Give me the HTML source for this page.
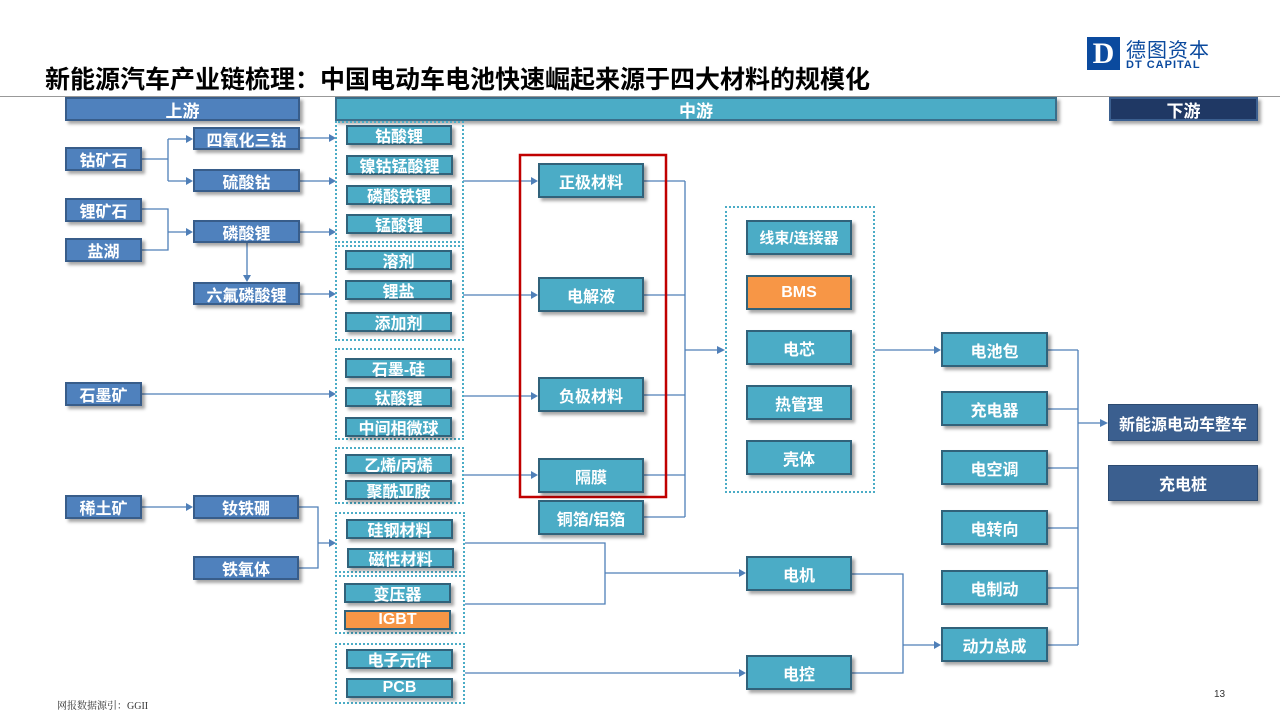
<!DOCTYPE html>
<html><head><meta charset="utf-8"><style>
body{margin:0;width:1280px;height:720px;background:#fff;position:relative;overflow:hidden;font-family:"Liberation Sans","Noto Sans CJK SC","WenQuanYi Zen Hei",sans-serif}
.b{position:absolute;box-sizing:border-box;color:#fff;font-weight:bold;display:flex;align-items:center;justify-content:center;font-size:16px;box-shadow:3px 3px 3px rgba(0,0,0,.35)}
.u{background:#4f81bd;border:2px solid #385d8a}
.m{background:#4bacc6;border:2px solid #31627a}
.o{background:#f79646;border:2px solid #31627a}
.n{background:#3b5f8f;border:1px solid #2c4a70}
.g{position:absolute;border:2px dotted #4bacc6;box-sizing:border-box}
svg{position:absolute;left:0;top:0}
</style></head><body>
<div style="position:absolute;left:45px;top:60px;font-size:25px;font-weight:bold;color:#000">新能源汽车产业链梳理：中国电动车电池快速崛起来源于四大材料的规模化</div>
<div style="position:absolute;left:0;top:96px;width:1280px;height:1px;background:#999"></div>
<div style="position:absolute;left:1087px;top:37px;width:33px;height:33px;background:#0b4a9e;color:#fff;font:bold 30px 'Liberation Serif',serif;display:flex;align-items:center;justify-content:center">D</div>
<div style="position:absolute;left:1126px;top:34px;font-size:20px;color:#0b4a9e;letter-spacing:1px">德图资本</div>
<div style="position:absolute;left:1126px;top:59px;font-size:11px;font-weight:bold;color:#0b4a9e;letter-spacing:1px">DT CAPITAL</div>

<div class="b u" style="left:65px;top:97px;width:235px;height:24px;font-size:17px">上游</div>
<div class="b m" style="left:335px;top:97px;width:722px;height:24px;font-size:17px;border-color:#3a6e8a">中游</div>
<div class="b" style="left:1109px;top:97px;width:149px;height:24px;font-size:17px;background:#1f3864;border:2px solid #3b5f8f">下游</div>

<svg width="1280" height="720"><g stroke="#4f7fb8" stroke-width="1.3" fill="none">
<path d="M142 159H168M168 139V181M168 139H190M168 181H190"/>
<path d="M142 209H168V250H142M168 232H190"/>
<path d="M247 243V280"/>
<path d="M300 138H333M300 181H333M300 232H333M300 294H333"/>
<path d="M142 394H333M142 507H190"/>
<path d="M299 507H318V568H299M318 543H333"/>
<path d="M463 181H535M463 295H535M463 396H535M463 475H535"/>
<path d="M644 181H685M644 295H685M644 395H685M644 475H685M644 517H685M685 181V517M685 350H722"/>
<path d="M875 350H938"/>
<path d="M465 543H605V604H465M605 573H743"/>
<path d="M465 673H743"/>
<path d="M852 574H903V673H852M903 645H938"/>
<path d="M1048 350H1078M1048 409H1078M1048 468H1078M1048 528H1078M1048 588H1078M1048 645H1078M1078 350V645M1078 423H1105"/>
</g><g fill="#4f7fb8">
<path d="M193 139l-7-4v8zM193 181l-7-4v8zM193 232l-7-4v8zM247 282l-4-7h8zM336 138l-7-4v8zM336 181l-7-4v8zM336 232l-7-4v8zM336 294l-7-4v8zM336 394l-7-4v8zM193 507l-7-4v8zM336 543l-7-4v8zM538 181l-7-4v8zM538 295l-7-4v8zM538 396l-7-4v8zM538 475l-7-4v8zM725 350l-8-4v8zM941 350l-7-4v8zM746 573l-7-4v8zM746 673l-7-4v8zM941 645l-7-4v8zM1108 423l-8-4v8z"/>
</g>
<rect x="520" y="155" width="146" height="342" fill="none" stroke="#c00000" stroke-width="2.5"/>
</svg>

<div class="b u" style="left:65px;top:147px;width:77px;height:24px">钴矿石</div>
<div class="b u" style="left:65px;top:198px;width:77px;height:24px">锂矿石</div>
<div class="b u" style="left:65px;top:238px;width:77px;height:24px">盐湖</div>
<div class="b u" style="left:193px;top:127px;width:107px;height:23px">四氧化三钴</div>
<div class="b u" style="left:193px;top:169px;width:107px;height:23px">硫酸钴</div>
<div class="b u" style="left:193px;top:220px;width:107px;height:23px">磷酸锂</div>
<div class="b u" style="left:193px;top:282px;width:107px;height:23px">六氟磷酸锂</div>
<div class="b u" style="left:65px;top:382px;width:77px;height:24px">石墨矿</div>
<div class="b u" style="left:65px;top:495px;width:77px;height:24px">稀土矿</div>
<div class="b u" style="left:193px;top:495px;width:106px;height:24px">钕铁硼</div>
<div class="b u" style="left:193px;top:556px;width:106px;height:24px">铁氧体</div>

<div class="g" style="left:335px;top:121px;width:129px;height:122px"></div>
<div class="g" style="left:335px;top:245px;width:129px;height:96px"></div>
<div class="g" style="left:335px;top:348px;width:129px;height:92px"></div>
<div class="g" style="left:335px;top:447px;width:129px;height:57px"></div>
<div class="g" style="left:335px;top:512px;width:130px;height:61px"></div>
<div class="g" style="left:335px;top:575px;width:130px;height:59px"></div>
<div class="g" style="left:335px;top:643px;width:130px;height:61px"></div>
<div class="g" style="left:725px;top:206px;width:150px;height:287px"></div>

<div class="b m" style="left:346px;top:125px;width:106px;height:20px">钴酸锂</div>
<div class="b m" style="left:346px;top:155px;width:107px;height:20px">镍钴锰酸锂</div>
<div class="b m" style="left:346px;top:185px;width:106px;height:20px">磷酸铁锂</div>
<div class="b m" style="left:346px;top:214px;width:106px;height:20px">锰酸锂</div>
<div class="b m" style="left:345px;top:250px;width:107px;height:20px">溶剂</div>
<div class="b m" style="left:345px;top:280px;width:107px;height:20px">锂盐</div>
<div class="b m" style="left:345px;top:312px;width:107px;height:20px">添加剂</div>
<div class="b m" style="left:345px;top:358px;width:107px;height:20px">石墨-硅</div>
<div class="b m" style="left:345px;top:387px;width:107px;height:20px">钛酸锂</div>
<div class="b m" style="left:345px;top:417px;width:107px;height:20px">中间相微球</div>
<div class="b m" style="left:345px;top:454px;width:107px;height:20px">乙烯/丙烯</div>
<div class="b m" style="left:345px;top:480px;width:107px;height:20px">聚酰亚胺</div>
<div class="b m" style="left:346px;top:519px;width:107px;height:20px">硅钢材料</div>
<div class="b m" style="left:347px;top:548px;width:107px;height:20px">磁性材料</div>
<div class="b m" style="left:344px;top:583px;width:107px;height:20px">变压器</div>
<div class="b o" style="left:344px;top:610px;width:107px;height:20px">IGBT</div>
<div class="b m" style="left:346px;top:649px;width:107px;height:20px">电子元件</div>
<div class="b m" style="left:346px;top:678px;width:107px;height:20px">PCB</div>

<div class="b m" style="left:538px;top:163px;width:106px;height:35px">正极材料</div>
<div class="b m" style="left:538px;top:277px;width:106px;height:35px">电解液</div>
<div class="b m" style="left:538px;top:377px;width:106px;height:35px">负极材料</div>
<div class="b m" style="left:538px;top:458px;width:106px;height:35px">隔膜</div>
<div class="b m" style="left:538px;top:500px;width:106px;height:35px">铜箔/铝箔</div>

<div class="b m" style="left:746px;top:220px;width:106px;height:35px;font-size:15px">线束/连接器</div>
<div class="b o" style="left:746px;top:275px;width:106px;height:35px">BMS</div>
<div class="b m" style="left:746px;top:330px;width:106px;height:35px">电芯</div>
<div class="b m" style="left:746px;top:385px;width:106px;height:35px">热管理</div>
<div class="b m" style="left:746px;top:440px;width:106px;height:35px">壳体</div>
<div class="b m" style="left:746px;top:556px;width:106px;height:35px">电机</div>
<div class="b m" style="left:746px;top:655px;width:106px;height:35px">电控</div>

<div class="b m" style="left:941px;top:332px;width:107px;height:35px">电池包</div>
<div class="b m" style="left:941px;top:391px;width:107px;height:35px">充电器</div>
<div class="b m" style="left:941px;top:450px;width:107px;height:35px">电空调</div>
<div class="b m" style="left:941px;top:510px;width:107px;height:35px">电转向</div>
<div class="b m" style="left:941px;top:570px;width:107px;height:35px">电制动</div>
<div class="b m" style="left:941px;top:627px;width:107px;height:35px">动力总成</div>

<div class="b n" style="left:1108px;top:404px;width:150px;height:37px">新能源电动车整车</div>
<div class="b n" style="left:1108px;top:465px;width:150px;height:36px">充电桩</div>

<div style="position:absolute;left:57px;top:697px;font-size:10px;font-family:'Liberation Serif','Noto Serif CJK SC',serif;color:#333">网报数据源引：GGII</div>
<div style="position:absolute;left:1214px;top:689px;font-size:10px;color:#333">13</div>
</body></html>
